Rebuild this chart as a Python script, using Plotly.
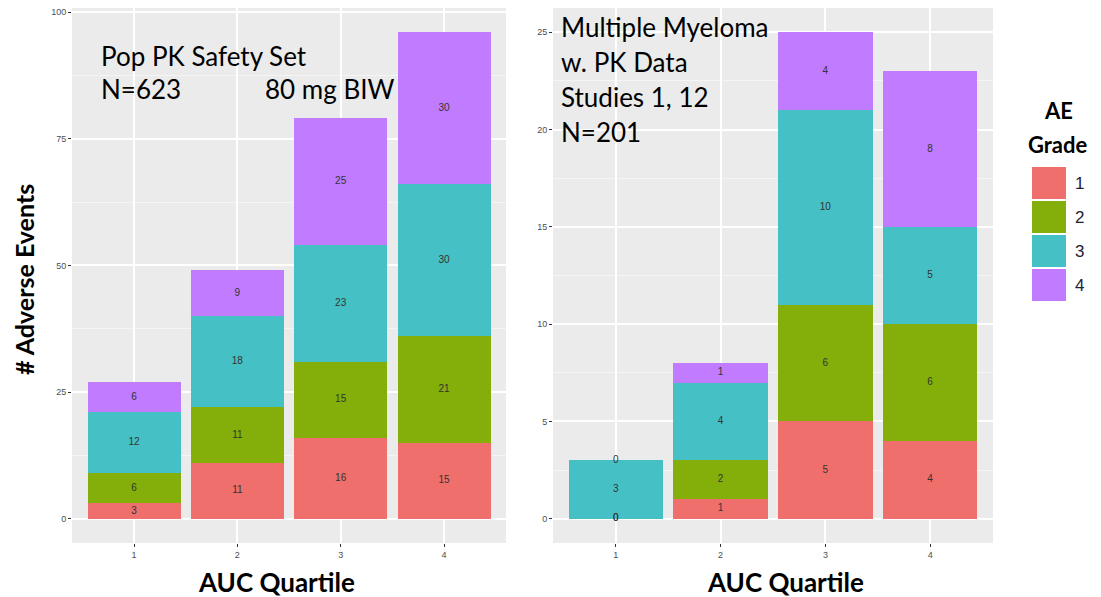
import plotly.graph_objects as go

quartiles = [1, 2, 3, 4]
grades = ["1", "2", "3", "4"]
colors = ["#EE6F6B", "#84AE0A", "#45C1C5", "#C07BFF"]

# Left panel: Pop PK Safety Set
left_g1 = [3, 11, 16, 15]
left_g2 = [6, 11, 15, 21]
left_g3 = [12, 18, 23, 30]
left_g4 = [6, 9, 25, 30]

# Right panel: Multiple Myeloma
right_g1 = [0, 1, 5, 4]
right_g2 = [0, 2, 6, 6]
right_g3 = [3, 4, 10, 5]
right_g4 = [0, 1, 4, 8]

left_series = [left_g1, left_g2, left_g3, left_g4]
right_series = [right_g1, right_g2, right_g3, right_g4]

OFF = 8  # page body margin
W, H = 1101 - OFF, 597 - OFF
def px_x(p): return (p - OFF) / W
def px_y(p): return 1 - (p - OFF) / H

fig = go.Figure()

def add_panel(series, xa, ya):
    cum = [0] * len(quartiles)
    for g, vals, col in zip(grades, series, colors):
        fig.add_trace(go.Bar(x=quartiles, y=vals, marker=dict(color=col, line=dict(width=0)),
                             width=0.9, xaxis=xa, yaxis=ya, showlegend=False, name=g,
                             hoverinfo="y"))
        mids = [c + v / 2 for c, v in zip(cum, vals)]
        fig.add_trace(go.Scatter(x=quartiles, y=mids, text=[str(v) for v in vals], mode="text",
                                 textfont=dict(size=10, color="#333333", family="Liberation Sans"),
                                 xaxis=xa, yaxis=ya, showlegend=False, hoverinfo="skip"))
        cum = [c + v for c, v in zip(cum, vals)]

add_panel(left_series, "x", "y")
add_panel(right_series, "x2", "y2")

ydom = [px_y(543), px_y(8)]
common_x = dict(range=[0.4, 4.6], tickvals=quartiles, ticktext=[str(q) for q in quartiles],
                showgrid=True, gridcolor="white", gridwidth=1.5, zeroline=False,
                ticks="outside", ticklen=3, tickcolor="#333333",
                tickfont=dict(size=9, color="#4D4D4D", family="Liberation Sans"))
common_y = dict(showgrid=True, gridcolor="white", gridwidth=1.5, zeroline=False,
                ticks="outside", ticklen=3, tickcolor="#333333", ticklabeloverflow="allow",
                tickfont=dict(size=9, color="#4D4D4D", family="Liberation Sans"))

fig.update_layout(
    width=W, height=H,
    margin=dict(l=0, r=0, t=0, b=0),
    paper_bgcolor="white", plot_bgcolor="#EBEBEB",
    barmode="stack", bargap=0.1,
    xaxis=dict(domain=[px_x(72), px_x(506)], anchor="y", **common_x),
    xaxis2=dict(domain=[px_x(553), px_x(993)], anchor="y2", **common_x),
    yaxis=dict(domain=ydom, anchor="x", range=[-4.8, 100.8], tickvals=[0, 25, 50, 75, 100],
               minor=dict(dtick=12.5, tick0=0, showgrid=True, gridcolor="#F5F5F5", gridwidth=0.8, ticks=""),
               **common_y),
    yaxis2=dict(domain=ydom, anchor="x2", range=[-1.25, 26.25], tickvals=[0, 5, 10, 15, 20, 25],
                minor=dict(dtick=2.5, tick0=0, showgrid=True, gridcolor="#F5F5F5", gridwidth=0.8, ticks=""),
                **common_y),
)

ann_font = dict(family="Lato", size=26, color="black")
bold_font = dict(family="Lato", size=26, color="black", weight="bold")
ytitle_font = dict(family="Lato", size=25, color="black", weight="bold")
leg_font = dict(family="Lato", size=22, color="black", weight="bold")
anns = [
    dict(x=px_x(99), y=px_y(56), text="Pop PK Safety Set"),
    dict(x=px_x(99), y=px_y(89), text="N=623"),
    dict(x=px_x(263), y=px_y(89), text="80 mg BIW"),
    dict(x=px_x(559), y=px_y(27), text="Multiple Myeloma"),
    dict(x=px_x(559), y=px_y(62), text="w. PK Data"),
    dict(x=px_x(559), y=px_y(97), text="Studies 1, 12"),
    dict(x=px_x(559), y=px_y(132), text="N=201"),
]
for a in anns:
    fig.add_annotation(xref="paper", yref="paper", xanchor="left", yanchor="middle",
                       showarrow=False, font=ann_font, **a)

# axis titles
fig.add_annotation(xref="paper", yref="paper", x=px_x(24), y=px_y(280), text="# Adverse Events",
                   textangle=-90, showarrow=False, font=ytitle_font, xanchor="center", yanchor="middle")
fig.add_annotation(xref="paper", yref="paper", x=px_x(276), y=px_y(582), text="AUC Quartile",
                   showarrow=False, font=bold_font, xanchor="center", yanchor="middle")
fig.add_annotation(xref="paper", yref="paper", x=px_x(785), y=px_y(582), text="AUC Quartile",
                   showarrow=False, font=bold_font, xanchor="center", yanchor="middle")

# legend (manual)
fig.add_annotation(xref="paper", yref="paper", x=px_x(1058), y=px_y(111), text="AE",
                   showarrow=False, font=leg_font, xanchor="center", yanchor="middle")
fig.add_annotation(xref="paper", yref="paper", x=px_x(1058), y=px_y(145), text="Grade",
                   showarrow=False, font=leg_font, xanchor="center", yanchor="middle")
key_top = 166
key_h = 34
for i, (g, col) in enumerate(zip(grades, colors)):
    y0 = key_top + i * key_h
    fig.add_shape(type="rect", xref="paper", yref="paper",
                  x0=px_x(1032), x1=px_x(1066), y0=px_y(y0 + 1), y1=px_y(y0 + key_h - 1),
                  fillcolor=col, line=dict(width=0))
    fig.add_annotation(xref="paper", yref="paper", x=px_x(1073), y=px_y(y0 + key_h / 2), text=g,
                       showarrow=False, font=dict(family="Liberation Sans", size=17, color="#222233"),
                       xanchor="left", yanchor="middle")

fig.write_html("out.html")
